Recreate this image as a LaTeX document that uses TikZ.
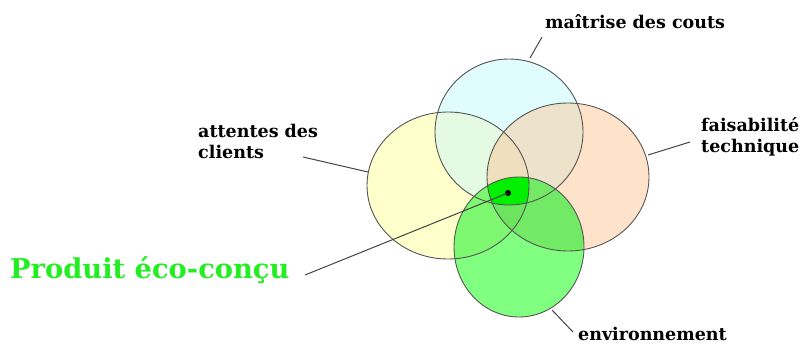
\documentclass[tikz,border=0pt]{standalone}
\usepackage{fontspec}
\newfontfamily\labfont{DejaVu Serif}
\definecolor{cY}{HTML}{FFFFCC}
\definecolor{cT}{HTML}{E0FCFC}
\definecolor{cR}{HTML}{FFE2CA}
\definecolor{cG}{HTML}{80FF80}
\definecolor{cLT}{HTML}{E4FAE2}
\definecolor{cTR}{HTML}{EDE2CC}
\definecolor{cLR}{HTML}{F0DFBC}
\definecolor{cGL}{HTML}{7EF870}
\definecolor{cGR}{HTML}{72EA66}
\definecolor{cGLR}{HTML}{6CE45E}
\definecolor{cAll}{HTML}{00F000}
\definecolor{cTitle}{HTML}{22EE22}
\definecolor{cEdge}{HTML}{555555}
\definecolor{cLead}{HTML}{444444}
\def\ellL{(448,185.5) ellipse [x radius=81pt, y radius=73.5pt]}
\def\ellT{(509,132) ellipse [x radius=74pt, y radius=73pt]}
\def\ellR{(568,177) ellipse [x radius=81pt, y radius=74pt]}
\def\ellG{(519,247) ellipse [x radius=65pt, y radius=70pt]}
\tikzset{
  lab/.style={font=\labfont\bfseries\fontsize{17.5}{21}\selectfont, anchor=west, inner sep=0pt, text=black},
  leader/.style={draw=cLead, line width=1pt},
  edge/.style={draw=cEdge, line width=0.9pt}
}
\begin{document}
\begin{tikzpicture}[x=1pt,y=-1pt]
\useasboundingbox (0,0) rectangle (810,345);
% base fills
\fill[cY] \ellL;
\fill[cT] \ellT;
\fill[cR] \ellR;
\fill[cG] \ellG;
% intersections
\begin{scope}\clip \ellL; \fill[cLT] \ellT; \end{scope}
\begin{scope}\clip \ellT; \fill[cTR] \ellR; \end{scope}
\begin{scope}\clip \ellL; \fill[cLR] \ellR; \end{scope}
\begin{scope}\clip \ellG; \fill[cGL] \ellL; \end{scope}
\begin{scope}\clip \ellG; \fill[cGR] \ellR; \end{scope}
\begin{scope}\clip \ellG; \clip \ellL; \fill[cGLR] \ellR; \end{scope}
\begin{scope}\clip \ellG; \clip \ellL; \clip \ellR; \fill[cAll] \ellT; \end{scope}
% outlines
\path[edge] \ellL;
\path[edge] \ellT;
\path[edge] \ellR;
\path[edge] \ellG;
% labels
\node[lab] (maitrise) at (545,22) {maîtrise des couts};
\node[lab, align=left, anchor=north west] (attentes) at (198,124) {attentes des\\clients};
\node[lab, align=left, anchor=north west] (faisab) at (701,117) {faisabilité\\technique};
\node[lab] (envir) at (578,334) {environnement};
\node[anchor=west, inner sep=0pt, text=cTitle, font=\labfont\bfseries\fontsize{27.3}{30}\selectfont] (produit) at (10,270) {Produit éco-conçu};
% leader end points
\coordinate (mA) at (542,37);
\coordinate (mB) at (530,58);
\coordinate (aA) at (303,157);
\coordinate (aB) at (368,172);
\coordinate (fA) at (690,142);
\coordinate (fB) at (648,155);
\coordinate (eA) at (573,332);
\coordinate (eB) at (552,310);
\coordinate (pA) at (305,275);
\node[circle, fill=black, inner sep=0pt, minimum size=6pt] (dot) at (508,193) {};
\draw[leader] (mA) -- (mB);
\draw[leader] (aA) -- (aB);
\draw[leader] (fA) -- (fB);
\draw[leader] (eA) -- (eB);
\draw[leader] (pA) -- (dot.center);
\end{tikzpicture}
\end{document}
